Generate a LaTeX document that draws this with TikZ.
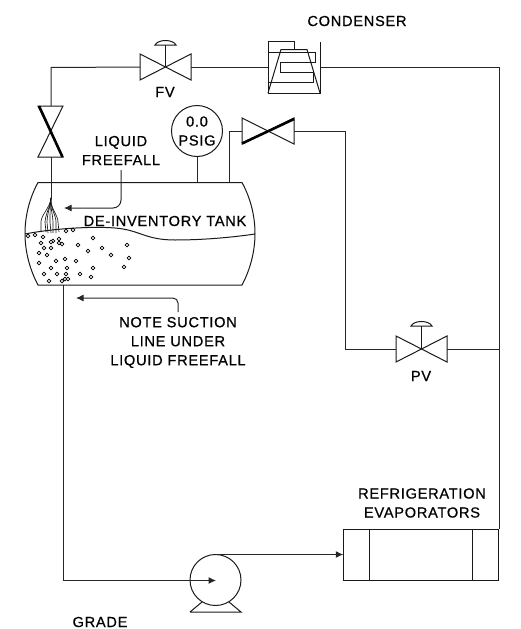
\documentclass[tikz,border=0pt]{standalone}
\usepackage{fontspec}
\setmainfont{Liberation Sans}
\usetikzlibrary{arrows.meta}
\newfontfamily\lblfont[LetterSpace=5,FakeBold=0.7]{Liberation Sans}
\tikzset{
  pipe/.style={draw=black!85,line width=1pt},
  thin part/.style={draw=black!90,line width=1pt},
  thick part/.style={draw=black,line width=2.6pt},
  lbl/.style={font=\lblfont\fontsize{14.6}{19}\selectfont,align=center,text=black,inner sep=0pt},
  flow/.style={pipe,-{Latex[length=7.5pt,width=7pt]}},
  bubble/.style={draw=black,line width=0.8pt,fill=white},
}
\begin{document}
\begin{tikzpicture}[x=1pt,y=-1pt]
\useasboundingbox (0,0) rectangle (521,629);
% valves
\draw[thin part] (140,54) -- (191,80) -- (191,54) -- (140,80) -- cycle;
\draw[thin part] (165.5,67) -- (165.5,45);
\draw[thin part] (155,45) .. controls (158,39) and (173,39) .. (176,45) -- cycle;
\coordinate (fvL) at (140,67); \coordinate (fvR) at (191,67);
\draw[thin part] (38,106) -- (63,106) -- (38,157) -- (63,157) -- cycle;
\draw[thick part] (39,106) -- (62.5,157);
\coordinate (bvT) at (51,106); \coordinate (bvB) at (51,157);
\draw[thin part] (242,118) -- (294,144) -- (294,118) -- (242,144) -- cycle;
\draw[thick part] (242,143.5) -- (294,119);
\coordinate (gvL) at (242,131); \coordinate (gvR) at (294,131);
\draw[thin part] (396,336) -- (447,362) -- (447,336) -- (396,362) -- cycle;
\draw[thin part] (421.5,349) -- (421.5,326);
\draw[thin part] (411,326) .. controls (414,320) and (429,320) .. (432,326) -- cycle;
\coordinate (pvL) at (396,349); \coordinate (pvR) at (447,349);
% tank
\draw[thin part] (38,182.5) -- (242,182.5) .. controls (250,197) and (255,215) .. (255,233.5) .. controls (255,252) and (250,270) .. (242,285) -- (38,285) .. controls (30,270) and (25,252) .. (25,233.5) .. controls (25,215) and (30,197) .. (38,182.5) -- cycle;
\draw[thin part] (25,234) .. controls (50,229) and (90,226) .. (115,228) .. controls (140,230) and (145,240) .. (175,240) .. controls (205,240) and (235,237) .. (255,234);
% condenser
\draw[thin part] (268,93) -- (268,41.5) -- (294,41.5) -- (294,49.5);
\draw[thin part] (268,93) -- (320,93) -- (320,42);
\draw[thin part] (268,93) -- (281,49.5) -- (307,49.5) -- (320,93);
\draw[thin part] (268,52) -- (315,52) -- (315,62.5) -- (280,62.5) -- (280,72) -- (313.5,72) -- (313.5,82.5) -- (268,82.5);
% gauge, pump, evaporators
\node[circle,thin part,minimum size=51pt,inner sep=0pt,align=center] (gauge) at (197,131) {};
\node[circle,thin part,minimum size=51pt,inner sep=0pt] (pump) at (215.5,580) {};
\draw[thin part] (190,612) -- (241,612) -- (229,602) (190,612) -- (202,602);
\node[draw=black!90,line width=1pt,minimum width=154.5pt,minimum height=51pt,inner sep=0pt] (evap) at (421,554.5) {};
\draw[thin part] (369.5,529) -- (369.5,580) (472,529) -- (472,580);
% pipes
\draw[pipe] (bvT) -- (51,67.5) -- (fvL);
\draw[pipe] (fvR) -- (268,67);
\draw[pipe] (321,67) -- (499,67) -- (499,529);
\draw[pipe] (bvB) -- (51,198);
\draw[pipe] (gauge.south) -- (197,182);
\draw[pipe] (gvL) -- (229,131) -- (229,182);
\draw[pipe] (gvR) -- (345,131) -- (345,349) -- (pvL);
\draw[pipe] (pvR) -- (499,349);
\draw[pipe] (63,285) -- (63,580.5) -- (195,580.5);
\draw[flow] (195,580.5) -- (216,580.5);
\draw[flow] (215.5,554.5) -- (evap.west);
% freefall streams
\foreach \a/\b/\c in {41/41/232,45/46/232,47/48/233,50/51/233,53/53/233,56/56/233,58/59/232}{
  \draw[thin part,line width=0.65pt] (51,198) .. controls (50,208) and (\a,215) .. (\a,222) -- (\b,\c);
}
% bubbles
\foreach \p/\q in {28/236,35/235,43/237,59/239,53/241,66/231,73/230,59/243,93/238,51/242,41/243,44/248,51/248,62/244,78/245,88/251,102/248,111/255,127/245,129/258,124/267,39/253,47/255,39/263,56/261,65/259,76/261,51/268,67/268,93/268,44/274,57/274,66/274,65/279,80/274,91/277,49/281,62/281,68/279}{
  \draw[bubble] (\p,\q) circle[radius=1.9];
}
% arrows
\node[lbl] (freefall) at (121,150.5) {LIQUID\\FREEFALL};
\draw[flow,rounded corners=8pt] (121,170) -- (121,208) -- (64,208);
\draw[flow,rounded corners=5pt] (178,312) -- (178,298) -- (76,298);
% labels
\node[lbl] (fvlbl) at (165,92) {FV};
\node[lbl] at (197,131) {0.0\\PSIG};
\node[lbl] at (165,221) {DE-INVENTORY TANK};
\node[lbl] at (357,21) {CONDENSER};
\node[lbl] at (178,342.5) {NOTE SUCTION\\LINE UNDER\\LIQUID FREEFALL};
\node[lbl] at (421,376) {PV};
\node[lbl] at (422,503) {REFRIGERATION\\EVAPORATORS};
\node[lbl] at (100,622) {GRADE};
\end{tikzpicture}
\end{document}
